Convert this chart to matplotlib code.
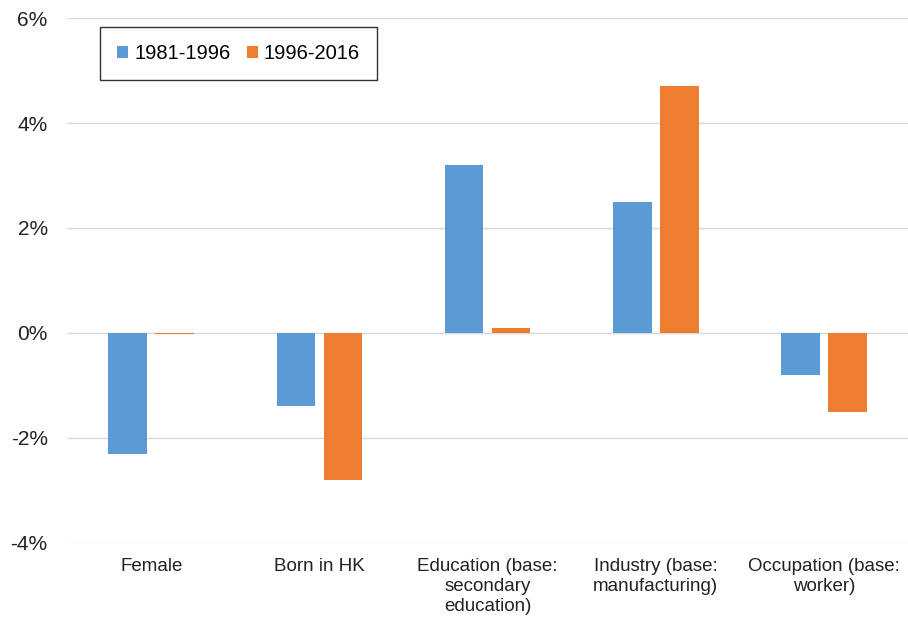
import numpy as np
import matplotlib.pyplot as plt
from matplotlib.ticker import FuncFormatter

plt.rcParams['font.family'] = ['Liberation Sans', 'DejaVu Sans']

categories = ["Female", "Born in HK", "Education (base:\nsecondary\neducation)",
              "Industry (base:\nmanufacturing)", "Occupation (base:\nworker)"]
period_1981_1996 = [-2.3, -1.4, 3.2, 2.5, -0.8]
period_1996_2016 = [-0.03, -2.8, 0.1, 4.7, -1.5]
series_names = ["1981-1996", "1996-2016"]

fig = plt.figure(figsize=(9.08, 6.26), dpi=100)
ax = fig.add_axes([0.074, 0.133, 0.926, 0.838])

x = np.arange(len(categories))
w = 0.23
ax.bar(x - 0.14, period_1981_1996, w, color="#5B9BD5", label=series_names[0], zorder=3)
ax.bar(x + 0.14, period_1996_2016, w, color="#ED7D31", label=series_names[1], zorder=3)

ax.set_xlim(-0.5, len(categories) - 0.5)
ax.set_ylim(-4, 6)
ax.set_yticks(np.arange(-4, 7, 2))
ax.yaxis.set_major_formatter(FuncFormatter(lambda v, p: f"{v:.0f}%"))
ax.grid(axis="y", color="#D9D9D9", linewidth=1, zorder=0)
ax.set_xticks(x)
ax.set_xticklabels(categories, fontsize=13.5, color="#222222", linespacing=1.22)
ax.tick_params(axis="y", labelsize=15, length=0, pad=14, labelcolor="#222222")
ax.tick_params(axis="x", length=0, pad=11)
for s in ax.spines.values():
    s.set_visible(False)

leg = ax.legend(loc="upper left", bbox_to_anchor=(0.039, 0.983), ncol=2, fontsize=14.5,
                frameon=True, fancybox=False, edgecolor="black", handlelength=0.55,
                handleheight=0.55, handletextpad=0.3, columnspacing=0.8,
                borderpad=0.85, borderaxespad=0)
leg.get_frame().set_linewidth(1.0)

fig.savefig("out.png", dpi=100)
